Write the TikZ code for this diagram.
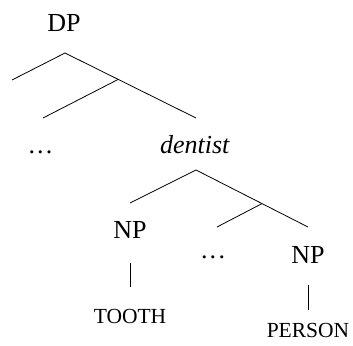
\documentclass[tikz,border=0pt]{standalone}
\usepackage{fontspec}
\setmainfont{Liberation Serif}
\newcommand{\spdots}{\makebox[24pt]{.\hfill.\hfill.}}
\begin{document}
\begin{tikzpicture}[x=1pt,y=-1pt,
  lbl/.style={anchor=base,inner sep=0pt,font=\fontsize{26}{30}\selectfont},
  sc/.style={anchor=base,inner sep=0pt,font=\fontsize{21.5}{24}\selectfont},
  edge/.style={line width=0.8pt}]
\useasboundingbox (0,0) rectangle (353,345);
\node[lbl] (dp) at (64,32) {DP};
\node[lbl] (dots1) at (40.5,153) {\spdots};
\node[lbl] (dentist) at (195,153) {\textit{dentist}};
\node[lbl] (np1) at (130,238) {NP};
\node[lbl] (dots2) at (213,258) {\spdots};
\node[lbl] (np2) at (308,263) {NP};
\node[sc] (tooth) at (130,323) {TOOTH};
\node[sc] (person) at (308,337) {PERSON};
\coordinate (a) at (65,53);
\coordinate (aL) at (12,80);
\coordinate (aR) at (196,118);
\coordinate (b) at (118,79.5);
\coordinate (bL) at (43,118);
\coordinate (c) at (196,170);
\coordinate (cL) at (130,203);
\coordinate (cR) at (308,227);
\coordinate (d) at (262,203.6);
\coordinate (dL) at (217,227);
\coordinate (t1) at (130,263);
\coordinate (t2) at (130,287);
\coordinate (p1) at (308,285);
\coordinate (p2) at (308,310);
\draw[edge] (aL) -- (a) -- (aR);
\draw[edge] (b) -- (bL);
\draw[edge] (cL) -- (c) -- (cR);
\draw[edge] (d) -- (dL);
\draw[edge] (t1) -- (t2);
\draw[edge] (p1) -- (p2);
\end{tikzpicture}
\end{document}
